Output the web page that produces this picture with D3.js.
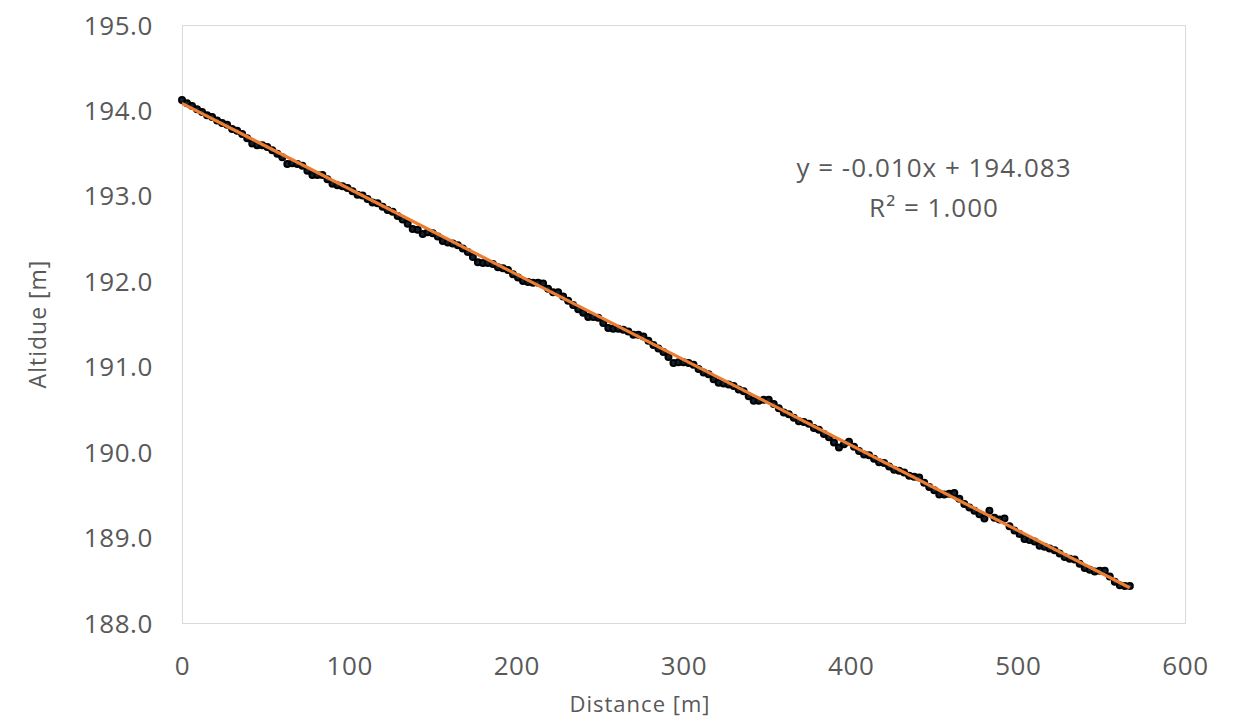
<!DOCTYPE html>
<html>
<head>
<meta charset="utf-8">
<script src="https://cdn.jsdelivr.net/npm/d3@7"></script>
<style>
  html, body { margin: 0; padding: 0; background: #fff; }
  svg { display: block; }
  text { font-family: "Open Sans", "Noto Sans", sans-serif; fill: #595959; }
</style>
</head>
<body>
<svg id="chart" width="1242" height="721"></svg>
<script>
// ---- Data ----
const distance = [
  0, 3, 6, 9, 12, 15, 18, 21, 24, 27, 30, 33, 36, 39, 42, 45, 48, 51, 54, 57,
  60, 63, 66, 69, 72, 75, 78, 81, 84, 87, 90, 93, 96, 99, 102, 105, 108, 111, 114, 117,
  120, 123, 126, 129, 132, 135, 138, 141, 144, 147, 150, 153, 156, 159, 162, 165, 168, 171, 174, 177,
  180, 183, 186, 189, 192, 195, 198, 201, 204, 207, 210, 213, 216, 219, 222, 225, 228, 231, 234, 237,
  240, 243, 246, 249, 252, 255, 258, 261, 264, 267, 270, 273, 276, 279, 282, 285, 288, 291, 294, 297,
  300, 303, 306, 309, 312, 315, 318, 321, 324, 327, 330, 333, 336, 339, 342, 345, 348, 351, 354, 357,
  360, 363, 366, 369, 372, 375, 378, 381, 384, 387, 390, 393, 396, 399, 402, 405, 408, 411, 414, 417,
  420, 423, 426, 429, 432, 435, 438, 441, 444, 447, 450, 453, 456, 459, 462, 465, 468, 471, 474, 477,
  480, 483, 486, 489, 492, 495, 498, 501, 504, 507, 510, 513, 516, 519, 522, 525, 528, 531, 534, 537,
  540, 543, 546, 549, 552, 555, 558, 561, 564, 567
];
const altitude = [
  194.123, 194.083, 194.053, 194.013, 193.983, 193.943, 193.923, 193.883, 193.853, 193.833,
  193.783, 193.763, 193.723, 193.673, 193.613, 193.593, 193.593, 193.573, 193.533, 193.493,
  193.453, 193.373, 193.383, 193.373, 193.353, 193.293, 193.243, 193.243, 193.243, 193.193,
  193.143, 193.123, 193.113, 193.093, 193.053, 193.013, 193.003, 192.963, 192.923, 192.913,
  192.873, 192.833, 192.813, 192.763, 192.723, 192.673, 192.613, 192.603, 192.553, 192.573,
  192.563, 192.523, 192.473, 192.453, 192.443, 192.423, 192.383, 192.343, 192.283, 192.223,
  192.213, 192.213, 192.203, 192.163, 192.153, 192.133, 192.083, 192.043, 192.003, 191.993,
  191.983, 191.983, 191.973, 191.913, 191.873, 191.873, 191.823, 191.773, 191.723, 191.673,
  191.633, 191.583, 191.583, 191.573, 191.513, 191.453, 191.443, 191.443, 191.433, 191.413,
  191.373, 191.373, 191.353, 191.303, 191.253, 191.213, 191.173, 191.113, 191.043, 191.053,
  191.053, 191.043, 191.023, 190.973, 190.933, 190.913, 190.853, 190.813, 190.803, 190.793,
  190.773, 190.733, 190.713, 190.653, 190.603, 190.603, 190.613, 190.613, 190.563, 190.513,
  190.463, 190.443, 190.403, 190.363, 190.353, 190.333, 190.283, 190.263, 190.213, 190.173,
  190.113, 190.053, 190.093, 190.123, 190.063, 190.013, 189.973, 189.963, 189.923, 189.883,
  189.873, 189.833, 189.793, 189.783, 189.763, 189.723, 189.713, 189.703, 189.643, 189.593,
  189.553, 189.503, 189.503, 189.513, 189.523, 189.453, 189.393, 189.353, 189.313, 189.273,
  189.223, 189.313, 189.233, 189.213, 189.223, 189.133, 189.083, 189.043, 188.983, 188.973,
  188.953, 188.903, 188.893, 188.873, 188.853, 188.813, 188.773, 188.753, 188.743, 188.693,
  188.643, 188.623, 188.603, 188.613, 188.613, 188.543, 188.483, 188.443, 188.433, 188.433
];
const trendSlope = -0.010;
const trendIntercept = 194.083;
const trendLabel = "y = -0.010x + 194.083";
const r2Label = "R² = 1.000";
const xTicks = [0, 100, 200, 300, 400, 500, 600];
const yTicks = [188, 189, 190, 191, 192, 193, 194, 195];
const xTitle = "Distance [m]";
const yTitle = "Altidue [m]";

// ---- Layout ----
const svg = d3.select("#chart");
const plot = { left: 182, top: 25, right: 1185, bottom: 623 };

const x = d3.scaleLinear().domain([0, 600]).range([plot.left, plot.right]);
const y = d3.scaleLinear().domain([188, 195]).range([plot.bottom, plot.top]);

// plot area border
svg.append("rect")
  .attr("x", plot.left + 0.5).attr("y", plot.top + 0.5)
  .attr("width", plot.right - plot.left).attr("height", plot.bottom - plot.top)
  .attr("fill", "none").attr("stroke", "#d9d9d9").attr("stroke-width", 1);

// axes (labels only, Excel style)
const xAxis = d3.axisBottom(x).tickValues(xTicks).tickSize(0).tickPadding(0)
  .tickFormat(d3.format("d"));
const gx = svg.append("g").attr("transform", `translate(0,${plot.bottom})`).call(xAxis);
gx.select(".domain").remove();
gx.selectAll("text").attr("dy", null).attr("y", 52)
  .style("font-size", "26px").style("letter-spacing", "0.6px").style("fill", "#595959")
  .style("font-family", '"Open Sans", sans-serif');

const yAxis = d3.axisLeft(y).tickValues(yTicks).tickSize(0).tickPadding(0)
  .tickFormat(d3.format(".1f"));
const gy = svg.append("g").attr("transform", `translate(${plot.left},0)`).call(yAxis);
gy.select(".domain").remove();
gy.selectAll("text").attr("x", -29).attr("dy", "0.35em")
  .style("font-size", "26px").style("letter-spacing", "0.6px").style("fill", "#595959")
  .style("font-family", '"Open Sans", sans-serif');

// axis titles
svg.append("text")
  .attr("x", 640).attr("y", 712)
  .attr("text-anchor", "middle").style("font-size", "22px").style("letter-spacing", "1px").text(xTitle);
svg.append("text")
  .attr("transform", `translate(46,${(plot.top + plot.bottom) / 2}) rotate(-90)`)
  .attr("text-anchor", "middle").style("font-size", "23px").style("letter-spacing", "1px").text(yTitle);

// data markers
const pts = distance.map((d, i) => ({ d, a: altitude[i] }));
svg.append("g").selectAll("circle").data(pts).join("circle")
  .attr("cx", p => x(p.d)).attr("cy", p => y(p.a))
  .attr("r", 3)
  .attr("fill", "#0e2236")
  .attr("stroke", "#000").attr("stroke-width", 2);

// linear trendline over data range
const xMin = d3.min(distance), xMax = d3.max(distance);
const trend = [xMin, xMax].map(d => ({ d, a: trendIntercept + trendSlope * d }));
svg.append("path")
  .datum(trend)
  .attr("d", d3.line().x(p => x(p.d)).y(p => y(p.a)))
  .attr("fill", "none").attr("stroke", "#ED7D31").attr("stroke-width", 3.2);

// equation label
svg.append("text").attr("x", 934).attr("y", 177).attr("text-anchor", "middle")
  .style("font-size", "26px").style("letter-spacing", "1px").text(trendLabel);
svg.append("text").attr("x", 934).attr("y", 217).attr("text-anchor", "middle")
  .style("font-size", "26px").style("letter-spacing", "1px").text(r2Label);
</script>
</body>
</html>
